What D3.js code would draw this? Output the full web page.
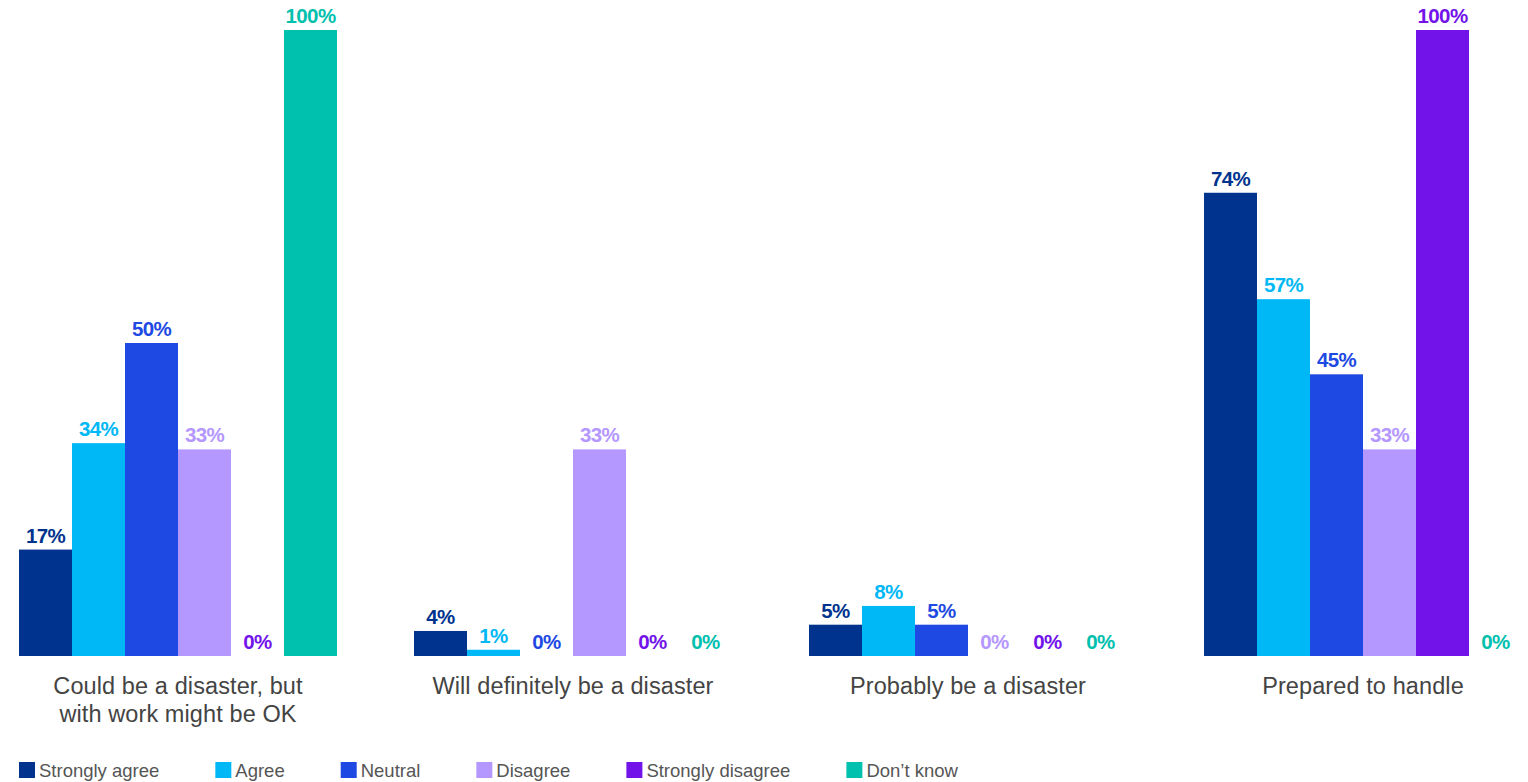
<!DOCTYPE html>
<html><head><meta charset="utf-8">
<script src="https://cdn.jsdelivr.net/npm/d3@7"></script>
<style>body{margin:0;background:#fff;}svg{display:block;}</style>
</head><body>
<svg id="chart" width="1528" height="782"></svg>
<script>
const categories = [
  ["Could be a disaster, but", "with work might be OK"],
  ["Will definitely be a disaster"],
  ["Probably be a disaster"],
  ["Prepared to handle"]
];
const seriesNames = ["Strongly agree", "Agree", "Neutral", "Disagree", "Strongly disagree", "Don\u2019t know"];
const seriesColors = ["#00338D", "#00B8F5", "#1E49E2", "#B497FF", "#7213EA", "#00C0AE"];
const stronglyAgree = [17, 4, 5, 74];
const agree = [34, 1, 8, 57];
const neutral = [50, 0, 5, 45];
const disagree = [33, 33, 0, 33];
const stronglyDisagree = [0, 0, 0, 100];
const dontKnow = [100, 0, 0, 0];
const seriesValues = [stronglyAgree, agree, neutral, disagree, stronglyDisagree, dontKnow];

const svg = d3.select("#chart");
const baseY = 656, topY = 30;
const x0 = d3.scaleBand().domain(d3.range(categories.length)).range([19, 1522]).paddingInner(77/395).paddingOuter(0);
const x1 = d3.scaleBand().domain(d3.range(seriesNames.length)).range([0, x0.bandwidth()]).padding(0);
const y = d3.scaleLinear().domain([0, 100]).range([baseY, topY]);

const groups = svg.selectAll("g.grp").data(categories).join("g")
  .attr("transform", (d, i) => `translate(${x0(i)},0)`);

groups.each(function(cat, ci) {
  const g = d3.select(this);
  seriesNames.forEach((s, si) => {
    const v = seriesValues[si][ci];
    g.append("rect")
      .attr("x", x1(si)).attr("width", x1.bandwidth())
      .attr("y", y(v)).attr("height", baseY - y(v))
      .attr("fill", seriesColors[si]);
    g.append("text")
      .attr("x", x1(si) + x1.bandwidth() / 2)
      .attr("y", Math.min(y(v) - 7, baseY - 2))
      .attr("text-anchor", "middle")
      .attr("font-family", "Liberation Sans, Arial, sans-serif")
      .attr("font-weight", "bold")
      .attr("font-size", 20.5)
      .attr("letter-spacing", "-0.6")
      .attr("fill", seriesColors[si])
      .text(v + "%");
  });
  const t = g.append("text")
    .attr("x", x0.bandwidth() / 2)
    .attr("text-anchor", "middle")
    .attr("font-family", "Liberation Sans, Arial, sans-serif")
    .attr("font-size", 23.5)
    .attr("letter-spacing", "0.1")
    .attr("fill", "#444");
  cat.forEach((line, li) => {
    t.append("tspan").attr("x", x0.bandwidth() / 2).attr("y", 694 + li * 28).text(line);
  });
});

// legend
let lx = 19;
const legend = svg.append("g");
seriesNames.forEach((s, si) => {
  legend.append("rect").attr("x", lx).attr("y", 762).attr("width", 16).attr("height", 16).attr("fill", seriesColors[si]);
  const t = legend.append("text").attr("x", lx + 20).attr("y", 777)
    .attr("font-family", "Liberation Sans, Arial, sans-serif")
    .attr("font-size", 18.5).attr("fill", "#555").text(s);
  lx = lx + 20 + t.node().getComputedTextLength() + 56;
});
</script>
</body></html>
